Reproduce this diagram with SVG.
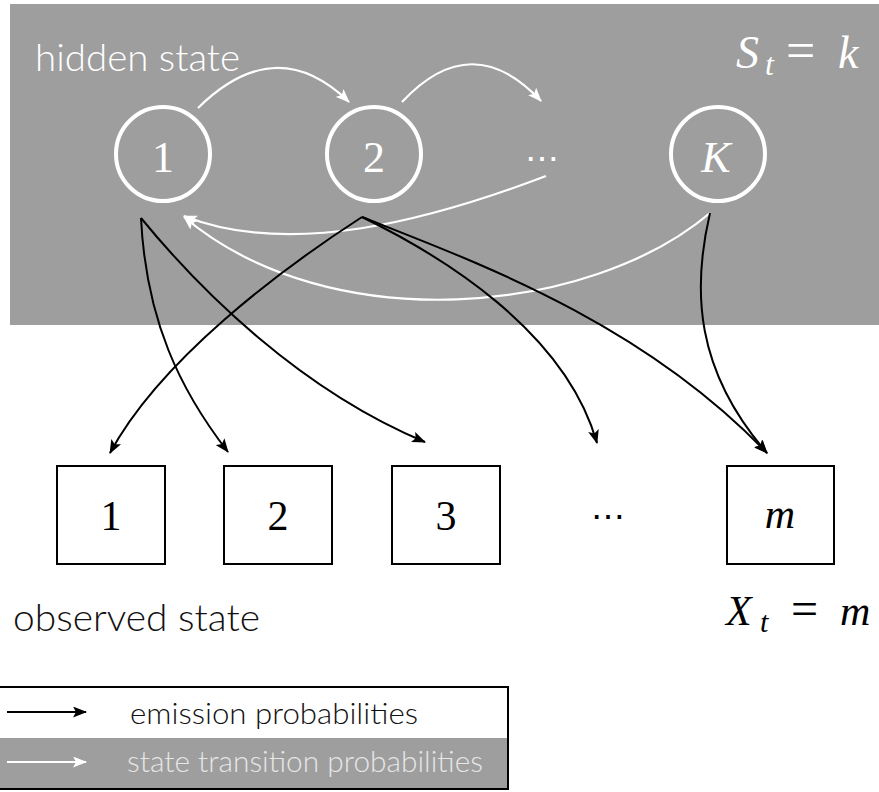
<svg xmlns="http://www.w3.org/2000/svg" width="879" height="792" viewBox="0 0 879 792">
<defs>
<style>
.bg{fill:#9e9e9e}
.lbl{font-family:Lato,"Liberation Sans",sans-serif;font-weight:300}
.math{font-family:"Liberation Serif","DejaVu Serif",serif}
.it{font-style:italic}
.wc{fill:none;stroke:#fff;stroke-width:4}
.box{fill:#fff;stroke:#000;stroke-width:2}
.em{fill:none;stroke:#000;stroke-width:2}
.tr{fill:none;stroke:#fff;stroke-width:2.2}
</style>
<marker id="ab" markerUnits="userSpaceOnUse" markerWidth="15" markerHeight="11" refX="13" refY="5.5" orient="auto"><path d="M0,0 L14,5.5 L0,11 L3,5.5 z" fill="#000"/></marker>
<marker id="aw" markerUnits="userSpaceOnUse" markerWidth="15" markerHeight="11" refX="13" refY="5.5" orient="auto"><path d="M0,0 L14,5.5 L0,11 L3,5.5 z" fill="#fff"/></marker>
</defs>
<rect class="bg" x="10" y="4" width="869" height="321"/>
<text class="lbl" x="35" y="71" font-size="38" fill="#fff" textLength="205" lengthAdjust="spacingAndGlyphs">hidden state</text>
<g class="math" fill="#fff">
<text class="it" x="736" y="68" font-size="46">S</text>
<text class="it" x="765" y="75" font-size="32">t</text>
<text x="786" y="68" font-size="52">=</text>
<text class="it" x="838" y="68" font-size="46">k</text>
</g>
<g id="h1"><circle class="wc" cx="163" cy="154" r="47"/><text class="math" x="163" y="172" font-size="44" fill="#fff" text-anchor="middle">1</text></g>
<g id="h2"><circle class="wc" cx="374" cy="154" r="47"/><text class="math" x="374" y="172" font-size="44" fill="#fff" text-anchor="middle">2</text></g>
<g id="hdots"><text x="542" y="170" font-family="DejaVu Serif,serif" font-size="34" fill="#fff" text-anchor="middle">⋯</text></g>
<g id="hK"><circle class="wc" cx="718" cy="154" r="47"/><text class="math it" x="716" y="172" font-size="44" fill="#fff" text-anchor="middle">K</text></g>
<g id="o1"><rect class="box" x="57" y="466" width="108" height="98"/><text class="math" x="111" y="530" font-size="42" text-anchor="middle">1</text></g>
<g id="o2"><rect class="box" x="224" y="466" width="108" height="98"/><text class="math" x="278" y="530" font-size="42" text-anchor="middle">2</text></g>
<g id="o3"><rect class="box" x="392" y="466" width="108" height="98"/><text class="math" x="446" y="530" font-size="42" text-anchor="middle">3</text></g>
<g id="odots"><text x="608" y="528" font-family="DejaVu Serif,serif" font-size="34" text-anchor="middle">⋯</text></g>
<g id="om"><rect class="box" x="727" y="466" width="107" height="98"/><text class="math it" x="780" y="528" font-size="42" text-anchor="middle">m</text></g>
<text class="lbl" x="13" y="631" font-size="38" fill="#111" textLength="247" lengthAdjust="spacingAndGlyphs">observed state</text>
<g class="math">
<text class="it" x="726" y="625" font-size="42">X</text>
<text class="it" x="760" y="632" font-size="30">t</text>
<text x="791" y="625" font-size="48">=</text>
<text class="it" x="840" y="625" font-size="42">m</text>
</g>
<g id="connectors">
<path class="tr" d="M198,108 Q276,31 349,102" marker-end="url(#aw)"/>
<path class="tr" d="M402,102 Q472,27 541,101" marker-end="url(#aw)"/>
<path class="tr" d="M546,176 C430,220 290,258 184,216" marker-end="url(#aw)"/>
<path class="tr" d="M710,213 C590,315 330,340 184,217" marker-end="url(#aw)"/>
<path class="em" d="M141,218 C146,320 180,390 228,452" marker-end="url(#ab)"/>
<path class="em" d="M141,218 C200,290 300,390 425,442" marker-end="url(#ab)"/>
<path class="em" d="M362,217 C280,270 160,360 110,453" marker-end="url(#ab)"/>
<path class="em" d="M362,217 C440,255 565,330 597,443" marker-end="url(#ab)"/>
<path class="em" d="M362,217 C470,260 640,320 767,453" marker-end="url(#ab)"/>
<path class="em" d="M710,213 C692,290 695,370 767,453" marker-end="url(#ab)"/>
</g>
<g id="legend">
<rect x="-2" y="687" width="510" height="102" fill="#fff" stroke="#000" stroke-width="2"/>
<rect class="bg" x="0" y="738" width="507" height="50"/>
<line x1="7" y1="712" x2="86" y2="712" stroke="#000" stroke-width="2" marker-end="url(#ab)"/>
<text class="lbl" x="130" y="724" font-size="30" fill="#111" textLength="288" lengthAdjust="spacingAndGlyphs">emission probabilities</text>
<line x1="7" y1="762" x2="86" y2="762" stroke="#fff" stroke-width="2" marker-end="url(#aw)"/>
<text class="lbl" x="127" y="772" font-size="30" fill="#e6e6e6" textLength="356" lengthAdjust="spacingAndGlyphs">state transition probabilities</text>
</g>
</svg>
